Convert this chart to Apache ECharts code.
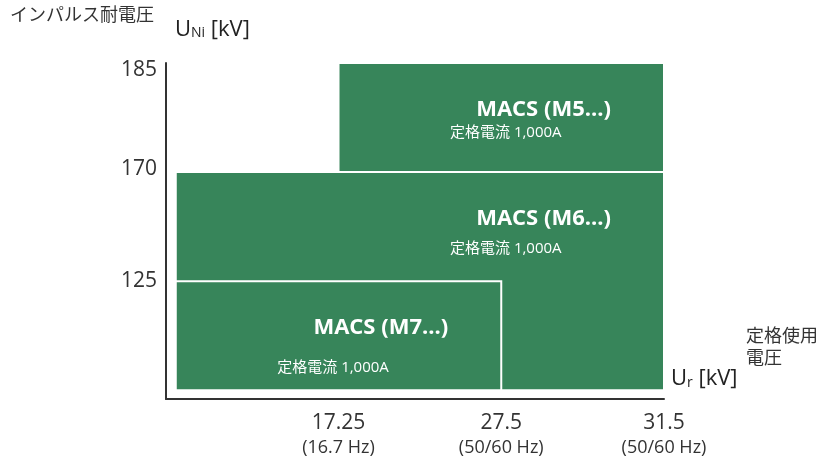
<!DOCTYPE html>
<html>
<head>
<meta charset="utf-8">
<script src="https://cdn.jsdelivr.net/npm/echarts@6/dist/echarts.min.js"></script>
<style>
html,body{margin:0;padding:0;background:#fff;}
#chart{width:832px;height:457px;}
</style>
</head>
<body>
<div id="chart"></div>
<script>
// ---- data ----
const xTicks = [17.25, 27.5, 31.5];                       // rated voltage Ur [kV]
const xTickFreq = ['(16.7 Hz)', '(50/60 Hz)', '(50/60 Hz)'];
const yTicks = [125, 170, 185];                           // impulse withstand voltage UNi [kV]
const products = ['MACS (M5...)', 'MACS (M6...)', 'MACS (M7...)'];
const ratedCurrent = ['定格電流 1,000A', '定格電流 1,000A', '定格電流 1,000A'];
const urFrom = [17.25, 0, 0];
const urTo = [31.5, 31.5, 27.5];
const uniFrom = [170, 0, 0];
const uniTo = [185, 170, 125];

// ---- styling / layout ----
const FONT = '"Open Sans", "Noto Sans CJK JP", sans-serif';
const GREEN = '#37855a';
const subOffsets = [[-214, 70], [-214, 77], [-224, 87]];
const yLabelStyles = ['l0', 'l1', 'l2'];

const xLevel = v => v === 0 ? 0 : xTicks.indexOf(v) + 1;
const yLevel = v => v === 0 ? 0 : yTicks.indexOf(v) + 1;

const data = products.map((p, i) => [xLevel(urFrom[i]), yLevel(uniFrom[i]), xLevel(urTo[i]), yLevel(uniTo[i])]);

const yLab = { fontSize: 21, color: '#333', fontFamily: FONT };

const chart = echarts.init(document.getElementById('chart'));
chart.setOption({
  animation: false,
  textStyle: { fontFamily: FONT },
  grid: { left: 166, right: 168, top: 63, bottom: 58, containLabel: false },
  xAxis: {
    type: 'value', min: -0.06, max: 3,
    splitLine: { show: false },
    axisTick: { show: false },
    axisLine: { show: true, onZero: false, lineStyle: { color: '#333', width: 2 } },
    axisLabel: {
      customValues: [1, 2, 3],
      margin: 12,
      formatter: v => {
        const k = Math.round(v) - 1;
        return '{a|' + xTicks[k] + '}\n{b|' + xTickFreq[k] + '}';
      },
      rich: {
        a: { fontSize: 21, color: '#333', lineHeight: 25, fontFamily: FONT },
        b: { fontSize: 18, color: '#333', lineHeight: 24, fontFamily: FONT }
      }
    }
  },
  yAxis: {
    type: 'value', min: -0.08, max: 3,
    splitLine: { show: false },
    axisTick: { show: false },
    axisLine: { show: true, onZero: false, lineStyle: { color: '#333', width: 2 } },
    axisLabel: {
      customValues: [1, 2, 3],
      margin: 9,
      fontSize: 21, color: '#333', fontFamily: FONT,
      formatter: v => {
        const k = Math.round(v) - 1;
        return '{' + yLabelStyles[k] + '|' + yTicks[k] + '}';
      },
      rich: {
        l0: Object.assign({}, yLab),
        l1: Object.assign({ padding: [0, 0, 6, 0] }, yLab),
        l2: Object.assign({ padding: [14, 0, 0, 0] }, yLab)
      }
    }
  },
  graphic: [
    { type: 'text', left: 10, top: 7, style: { text: 'インパルス耐電圧', fontSize: 18, fill: '#333', fontFamily: FONT } },
    { type: 'text', left: 175, top: 19, style: {
      text: '{u|U}{s|Ni}{u| [kV]}', fontFamily: FONT,
      rich: {
        u: { fontSize: 22, fill: '#222', fontFamily: FONT, verticalAlign: 'bottom' },
        s: { fontSize: 14, fill: '#222', fontFamily: FONT, verticalAlign: 'bottom', padding: [0, 0, 1, 0] }
      } } },
    { type: 'text', left: 746, top: 326, style: { text: '定格使用\n電圧', fontSize: 18, lineHeight: 22, fill: '#333', fontFamily: FONT } },
    { type: 'text', left: 671, top: 368, style: {
      text: '{u|U}{s|r}{u| [kV]}', fontFamily: FONT,
      rich: {
        u: { fontSize: 22, fill: '#222', fontFamily: FONT, verticalAlign: 'bottom' },
        s: { fontSize: 14, fill: '#222', fontFamily: FONT, verticalAlign: 'bottom' }
      } } }
  ],
  series: [{
    type: 'custom',
    data: data,
    encode: { x: [0, 2], y: [1, 3] },
    renderItem: (params, api) => {
      const i = params.dataIndex;
      const p0 = api.coord([api.value(0), api.value(3)]);
      const p1 = api.coord([api.value(2), api.value(1)]);
      const off = subOffsets[i];
      return {
        type: 'group',
        children: [
          { type: 'rect', shape: { x: p0[0], y: p0[1], width: p1[0] - p0[0], height: p1[1] - p0[1] },
            style: { fill: GREEN, stroke: '#fff', lineWidth: 2 } },
          { type: 'text', x: p1[0] - 53, y: p0[1] + 47,
            style: { text: products[i], fill: '#fff', fontSize: 22, fontWeight: 'bold', fontFamily: FONT, align: 'right', verticalAlign: 'middle' } },
          { type: 'text', x: p1[0] + off[0], y: p0[1] + off[1],
            style: { text: ratedCurrent[i], fill: '#fff', fontSize: 15, fontFamily: FONT, align: 'left', verticalAlign: 'middle' } }
        ]
      };
    }
  }]
});
</script>
</body>
</html>
